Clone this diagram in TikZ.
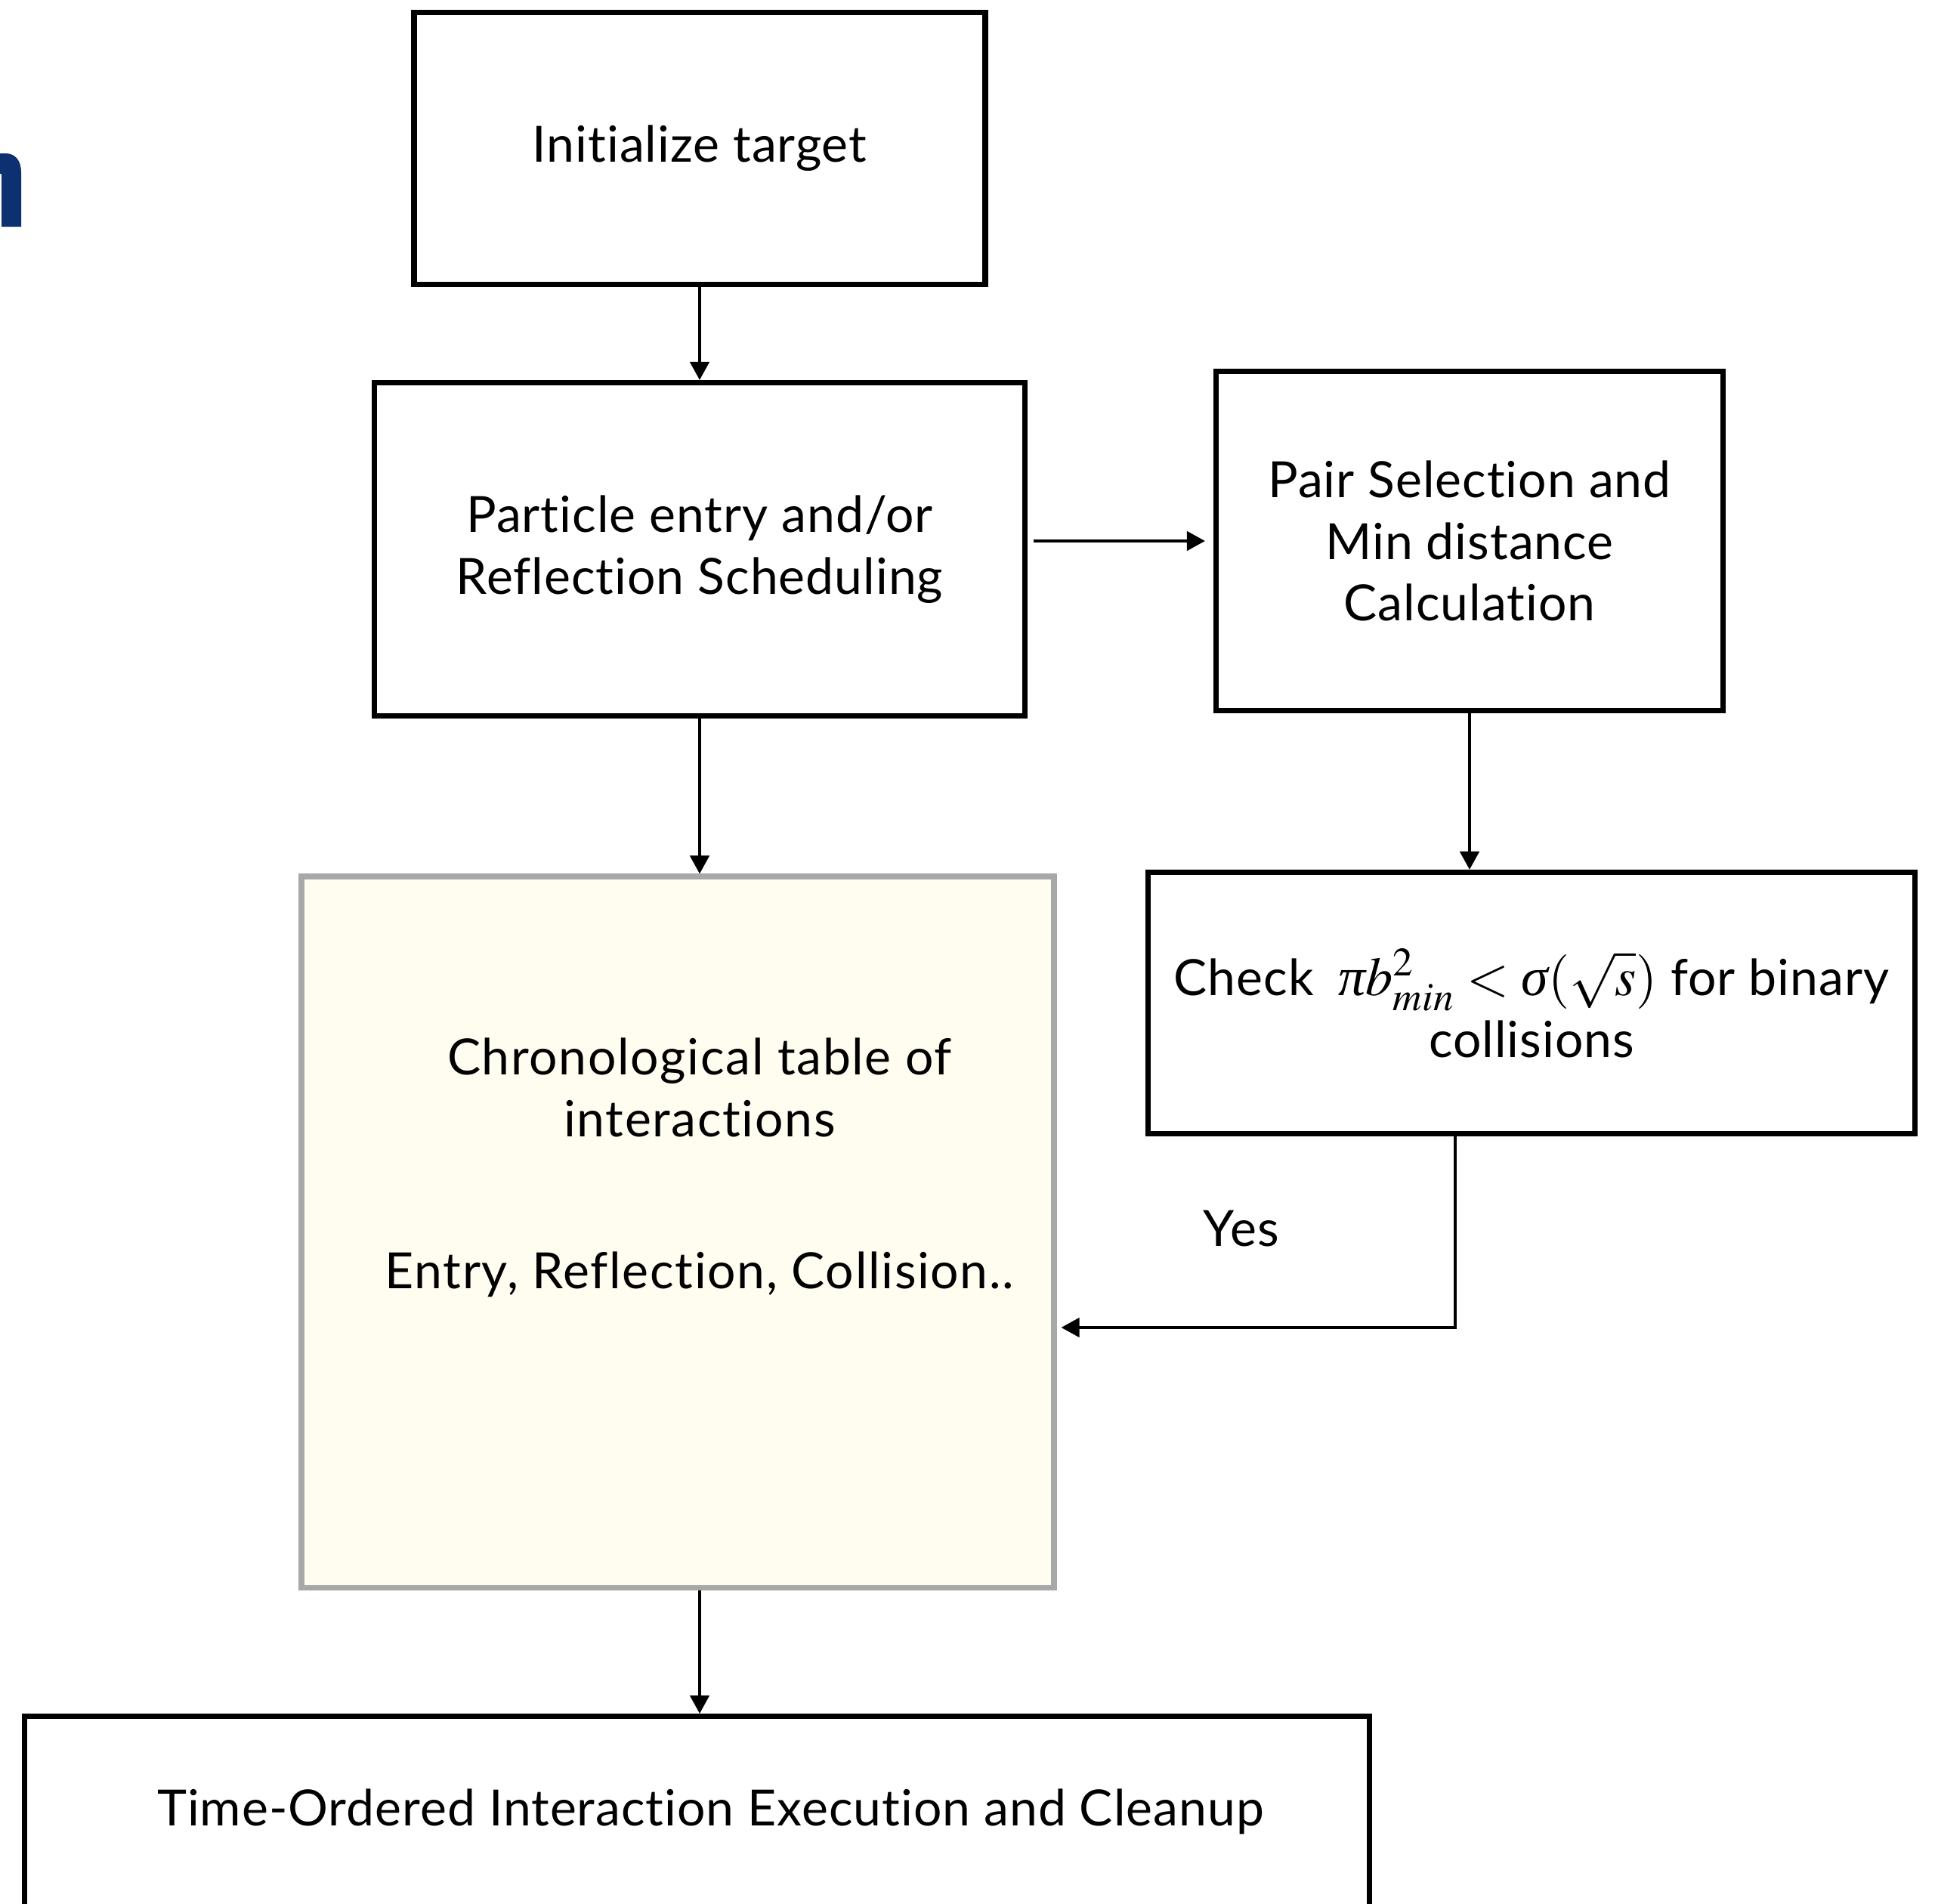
\RequirePackage{fix-cm}
\documentclass[tikz,border=0pt]{standalone}
\usepackage{amsmath}
\usepackage{mathptmx}
\usepackage{fontspec}
\setmainfont{Lato}[Ligatures=NoCommon, LetterSpace=1.5]
\newfontfamily\widefont{Lato}[Ligatures=NoCommon, LetterSpace=2.5]
\newfontfamily\greekit{Liberation Serif}[Style=Italic]
\newcommand{\gk}[1]{\text{\greekit\itshape #1}}
\usepackage{xcolor}
\usepackage{tikz}
\usetikzlibrary{arrows.meta, positioning, calc}
\definecolor{tablefill}{HTML}{FFFDF0}
\definecolor{tableline}{HTML}{A8A8A8}
\definecolor{titleblue}{HTML}{0D3170}

\begin{document}
\begin{tikzpicture}[
    >={Triangle[length=2.4mm, width=2.5mm]},
    stage/.style={draw, line width=2pt, align=center, inner sep=0pt, font=\fontsize{18.8}{23.3}\selectfont},
    tbl/.style={draw=tableline, fill=tablefill, line width=2pt, inner sep=0pt},
    flow/.style={->, line width=1.3pt},
    lbl/.style={font=\fontsize{18.8}{23.3}\selectfont\widefont, inner sep=0pt}]
  \useasboundingbox (0,0) rectangle (25.65,-25.20);
  % cut-off heading letter at the left edge
  \fill[titleblue] (0,-2.03) -- (0.07,-2.03) .. controls (0.20,-2.03) and (0.28,-2.12) .. (0.28,-2.28)
    -- (0.28,-3.00) -- (0.02,-3.00) -- (0.02,-2.32) .. controls (0.02,-2.30) .. (0,-2.30) -- cycle;
  % stages
  \node[stage, minimum width=7.56cm, minimum height=3.60cm] (init) at (9.26,-1.965) {Initialize target};
  \node[stage, minimum width=8.61cm, minimum height=4.41cm] (sched) at (9.26,-7.27) {Particle entry and/or\\Reflection Scheduling};
  \node[stage, minimum width=6.71cm, minimum height=4.49cm] (pair) at (19.45,-7.16) {Pair Selection and\\Min distance\\Calculation};
  \node[tbl, minimum width=9.96cm, minimum height=9.41cm] (table) at (8.97,-16.305) {};
  \node[lbl, align=center] (tabletext) at (9.26,-15.45) {Chronological table of\\interactions\\[1.19cm]Entry, Reflection, Collision..};
  \node[stage, minimum width=10.15cm, minimum height=3.46cm] (check) at (20.27,-13.275)
    {Check\enspace {\fontsize{20.5}{23.3}\selectfont $\gk{π}b^{2}_{min} < \gk{σ}(\sqrt{s})$} for binary\\collisions};
  \node[stage, minimum width=17.80cm, minimum height=2.53cm] (cleanup) at (9.225,-23.98)
    {\hspace*{0.36cm}Time-Ordered Interaction Execution and Cleanup};
  \node[lbl] (yes) at (16.43,-16.26) {Yes};
  \coordinate (yesbend) at (19.26,-17.57);
  % connectors
  \draw[flow] (init) -- (sched);
  \draw[flow] (sched) -- (sched |- table.north);
  \draw[flow, shorten <=0.08cm, shorten >=0.11cm] (sched.east |- pair) -- (pair.west);
  \draw[flow] (pair) -- (pair |- check.north);
  \draw[flow] (table.south -| tabletext) -- (cleanup.north -| tabletext);
  \draw[flow, shorten >=0.06cm] (check.south -| yesbend) -- (yesbend) -- (yesbend -| table.east);
\end{tikzpicture}
\end{document}
